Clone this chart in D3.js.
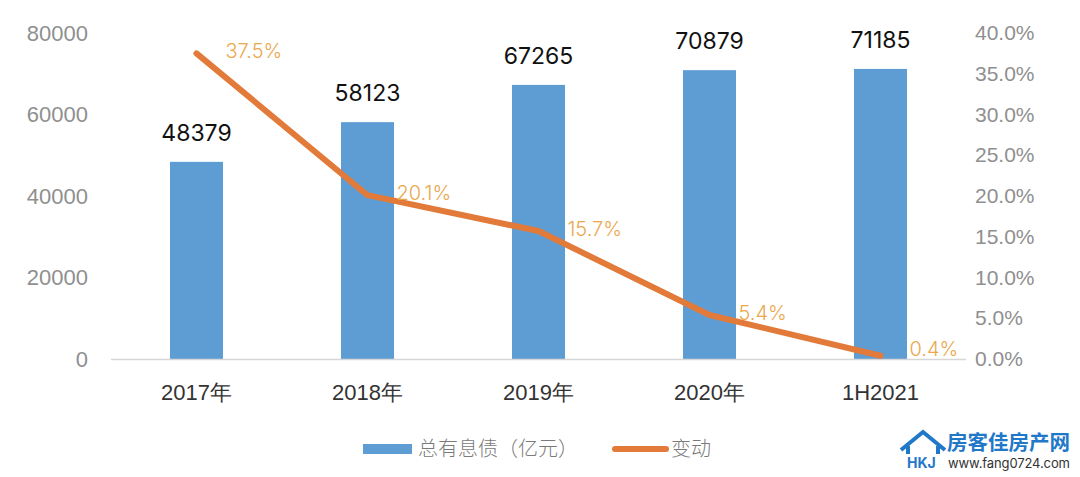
<!DOCTYPE html>
<html>
<head>
<meta charset="utf-8">
<script src="https://cdn.jsdelivr.net/npm/d3@7"></script>
<style>
  body { margin: 0; background: #fff; }
  svg { display: block; font-family: Inter, "Noto Sans CJK SC", "Noto Sans", sans-serif; }
</style>
</head>
<body>
<svg id="chart" width="1080" height="477"></svg>
<script>
// data
var categories = ["2017年", "2018年", "2019年", "2020年", "1H2021"];
var debtValues = [48379, 58123, 67265, 70879, 71185];
var changeValues = [37.5, 20.1, 15.7, 5.4, 0.4];
var leftTicks = [0, 20000, 40000, 60000, 80000];
var rightTicks = [0, 5, 10, 15, 20, 25, 30, 35, 40];
var legendLabels = ["总有息债（亿元）", "变动"];

var width = 1080, height = 477;
var svg = d3.select("#chart");

var x = d3.scaleBand()
    .domain(categories)
    .range([111, 966])
    .paddingInner(0.69)
    .paddingOuter(0.345);

var yLeft = d3.scaleLinear().domain([0, 80000]).range([359, 33]);
var yRight = d3.scaleLinear().domain([0, 40]).range([359, 33]);

// left axis labels
var leftAxis = svg.append("g")
    .attr("transform", "translate(88,0)")
    .call(d3.axisLeft(yLeft).tickValues(leftTicks).tickSize(0).tickPadding(0)
        .tickFormat(function(d) { return String(d); }));
leftAxis.select(".domain").remove();
leftAxis.selectAll("text")
    .attr("fill", "#8f8f8f")
    .style("font-size", "22px")
    .style("font-weight", 300);

// right axis labels
var rightAxis = svg.append("g")
    .attr("transform", "translate(975,0)")
    .call(d3.axisRight(yRight).tickValues(rightTicks).tickSize(0).tickPadding(0)
        .tickFormat(function(d) { return d.toFixed(1) + "%"; }));
rightAxis.select(".domain").remove();
rightAxis.selectAll("text")
    .attr("fill", "#8f8f8f")
    .style("font-size", "21px")
    .style("font-weight", 300);

// bars
svg.selectAll("rect.bar")
    .data(debtValues)
    .enter().append("rect")
    .attr("class", "bar")
    .attr("x", function(d, i) { return x(categories[i]); })
    .attr("width", x.bandwidth())
    .attr("y", function(d) { return yLeft(d); })
    .attr("height", function(d) { return yLeft(0) - yLeft(d); })
    .attr("fill", "#5e9cd4");

// baseline
svg.append("line")
    .attr("x1", 111).attr("x2", 966)
    .attr("y1", yLeft(0) + 0.5).attr("y2", yLeft(0) + 0.5)
    .attr("stroke", "#d6d6d6")
    .attr("stroke-width", 1.5);

// bar value labels
svg.selectAll("text.val")
    .data(debtValues)
    .enter().append("text")
    .attr("class", "val")
    .attr("x", function(d, i) { return x(categories[i]) + x.bandwidth() / 2; })
    .attr("y", function(d) { return yLeft(d) - 21; })
    .attr("text-anchor", "middle")
    .attr("fill", "#111")
    .style("font-size", "23px")
    .text(function(d) { return d; });

// category labels
var xAxis = svg.append("g")
    .attr("transform", "translate(0,384)")
    .call(d3.axisBottom(x).tickSize(0).tickPadding(0));
xAxis.select(".domain").remove();
xAxis.selectAll("text")
    .attr("fill", "#333")
    .style("font-size", "22px")
    .style("font-weight", 300);

// line
var line = d3.line()
    .x(function(d, i) { return x(categories[i]) + x.bandwidth() / 2; })
    .y(function(d) { return yRight(d); });

svg.append("path")
    .datum(changeValues)
    .attr("d", line)
    .attr("fill", "none")
    .attr("stroke", "#e27a3a")
    .attr("stroke-width", 6)
    .attr("stroke-linejoin", "round")
    .attr("stroke-linecap", "round");

// line value labels
svg.selectAll("text.pct")
    .data(changeValues)
    .enter().append("text")
    .attr("class", "pct")
    .attr("x", function(d, i) { return x(categories[i]) + x.bandwidth() / 2 + 29; })
    .attr("y", function(d) { return Math.min(yRight(d) - 2, 349); })
    .attr("dy", "0.35em")
    .attr("fill", "#eaa84e")
    .style("font-size", "20px")
    .style("font-weight", 300)
    .text(function(d) { return d.toFixed(1) + "%"; });

// legend
var legend = svg.append("g");
legend.append("rect")
    .attr("x", 363).attr("y", 444)
    .attr("width", 49).attr("height", 10)
    .attr("fill", "#5e9cd4");
legend.append("text")
    .attr("x", 418).attr("y", 449).attr("dy", "0.35em")
    .attr("fill", "#7a7a7a")
    .style("font-size", "20px")
    .style("font-weight", 300)
    .text(legendLabels[0]);
legend.append("line")
    .attr("x1", 615).attr("x2", 666)
    .attr("y1", 449).attr("y2", 449)
    .attr("stroke", "#e27a3a")
    .attr("stroke-width", 6)
    .attr("stroke-linecap", "round");
legend.append("text")
    .attr("x", 671).attr("y", 449).attr("dy", "0.35em")
    .attr("fill", "#7a7a7a")
    .style("font-size", "20px")
    .style("font-weight", 300)
    .text(legendLabels[1]);

// watermark
var wm = svg.append("g");
wm.append("path")
    .attr("d", "M901,450 L923,432 L945,450 M908,446 L908,454 M938,446 L938,454")
    .attr("fill", "none")
    .attr("stroke", "#1f78c8")
    .attr("stroke-width", 4)
    .attr("stroke-linejoin", "miter");
wm.append("text")
    .attr("x", 907).attr("y", 468)
    .attr("fill", "#1f78c8")
    .style("font-size", "14px")
    .style("font-weight", 700)
    .text("HKJ");
wm.append("text")
    .attr("x", 947).attr("y", 450)
    .attr("fill", "#1f78c8")
    .style("font-family", "'Noto Sans CJK SC', sans-serif")
    .style("font-size", "20.5px")
    .style("font-weight", 700)
    .text("房客佳房产网");
wm.append("text")
    .attr("x", 948).attr("y", 468)
    .attr("fill", "#333")
    .style("font-size", "13px")
    .attr("textLength", 122)
    .text("www.fang0724.com");
</script>
</body>
</html>
